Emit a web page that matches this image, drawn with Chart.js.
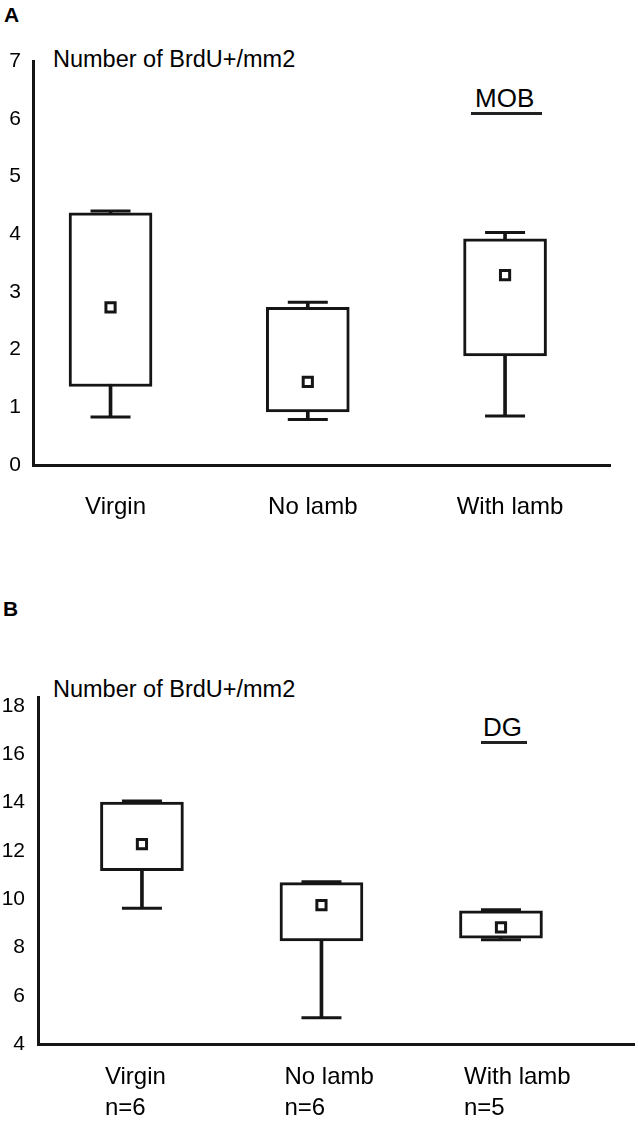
<!DOCTYPE html>
<html>
<head>
<meta charset="utf-8">
<script src="https://cdn.jsdelivr.net/npm/chart.js@4.4.1/dist/chart.umd.min.js"></script>
<style>
  body { margin: 0; background: #fff; width: 638px; height: 1125px; position: relative; overflow: hidden;
         font-family: 'Liberation Sans', Arial, sans-serif; color: #000; }
  .wrap { position: absolute; left: 0; }
  .t { position: absolute; white-space: nowrap; line-height: 1; }
  .u { position: absolute; height: 3px; background: #222; }
</style>
</head>
<body>

<div class="t" style="left:4px;top:4px;font-size:21px;font-weight:bold">A</div>
<div class="t" style="left:53px;top:48px;font-size:23.5px">Number of BrdU+/mm2</div>
<div class="t" style="left:475px;top:85px;font-size:26px">MOB</div>
<div class="u" style="left:471px;top:112px;width:71px"></div>

<div class="t" style="left:3px;top:598px;font-size:21px;font-weight:bold">B</div>
<div class="t" style="left:53px;top:678px;font-size:23.5px">Number of BrdU+/mm2</div>
<div class="t" style="left:483px;top:714px;font-size:26px">DG</div>
<div class="u" style="left:481px;top:741px;width:46px"></div>

<div class="wrap" style="top:0"><canvas id="mob" width="638" height="540"></canvas></div>
<div class="wrap" style="top:600px"><canvas id="dg" width="638" height="525"></canvas></div>

<script>
// groups
const categories = ['Virgin', 'No lamb', 'With lamb'];
const groupSizes = ['n=6', 'n=6', 'n=5'];

// A - MOB box plots
const mobMin = [0.83, 0.79, 0.85];
const mobQ1  = [1.36, 0.92, 1.89];
const mobMid = [2.73, 1.44, 3.29];
const mobQ3  = [4.37, 2.73, 3.92];
const mobMax = [4.40, 2.82, 4.03];
const mobTicks = [0, 1, 2, 3, 4, 5, 6, 7];

// B - DG box plots
const dgMin = [9.62, 5.09, 8.32];
const dgQ1  = [11.18, 8.27, 8.38];
const dgMid = [12.28, 9.75, 8.83];
const dgQ3  = [14.02, 10.68, 9.52];
const dgMax = [14.06, 10.72, 9.56];
const dgTicks = [4, 6, 8, 10, 12, 14, 16, 18];

Chart.defaults.font.family = "'Liberation Sans', Arial, sans-serif";
Chart.defaults.color = '#000';
const ink = '#151515';

function boxChart(id, mins, q1s, mids, q3s, maxs, cfg) {
  const idx = categories.map((c, i) => i);
  const pts = arr => arr.map((v, i) => ({ x: i, y: v }));

  return new Chart(document.getElementById(id), {
    type: 'bar',
    data: {
      datasets: [
        // whisker stems, drawn under the boxes
        { data: idx.map(i => ({ x: i, y: [mins[i], maxs[i]] })), backgroundColor: ink,
          barThickness: 3, grouped: false, order: 4 },
        // boxes
        { data: idx.map(i => ({ x: i, y: [q1s[i], q3s[i]] })), backgroundColor: '#fff',
          borderColor: ink, borderWidth: 3, borderSkipped: false,
          barThickness: cfg.boxW, grouped: false, order: 3 },
        // whisker caps
        { type: 'scatter', data: pts(mins).concat(pts(maxs)), pointStyle: 'line',
          radius: 20, hoverRadius: 20, borderColor: ink, borderWidth: 3, order: 2 },
        // centre marker
        { type: 'scatter', data: pts(mids), pointStyle: 'rect', radius: 6.5, hoverRadius: 6.5,
          backgroundColor: '#fff', borderColor: ink, borderWidth: 3, order: 1 }
      ]
    },
    options: {
      responsive: false,
      animation: false,
      events: [],
      layout: { autoPadding: false, padding: { top: cfg.top, right: cfg.right, left: 0, bottom: 0 } },
      plugins: { legend: { display: false }, tooltip: { enabled: false } },
      scales: {
        x: {
          type: 'linear', min: cfg.xMin, max: cfg.xMax, offset: false,
          grid: { display: false, drawTicks: false },
          border: { color: ink, width: 3 },
          afterBuildTicks: s => { s.ticks = idx.map(i => ({ value: i })); },
          afterFit: s => { s.height = cfg.xH; s.paddingLeft = 0; s.paddingRight = 0; },
          ticks: {
            font: { size: 24, lineHeight: 1.3 }, color: '#000', padding: cfg.labPad,
            maxRotation: 0, autoSkip: false, align: cfg.align, labelOffset: cfg.labOff,
            callback: v => cfg.label(v)
          }
        },
        y: {
          min: cfg.yMin, max: cfg.yMax,
          grid: { display: false, drawTicks: false },
          border: { color: ink, width: 3 },
          afterBuildTicks: s => { s.ticks = cfg.ticks.map(v => ({ value: v })); },
          afterFit: s => { s.width = cfg.yW; },
          ticks: { font: { size: 21 }, color: '#000', padding: cfg.yPad }
        }
      }
    }
  });
}

boxChart('mob', mobMin, mobQ1, mobMid, mobQ3, mobMax, {
  top: 61, right: 28, xH: 75, yW: 33, yPad: 12,
  xMin: -0.393, xMax: 2.532, yMin: 0, yMax: 7, ticks: mobTicks,
  boxW: 83, labPad: 27, align: 'center', labOff: 5,
  label: v => categories[v]
});

boxChart('dg', dgMin, dgQ1, dgMid, dgQ3, dgMax, {
  top: 97, right: 4, xH: 81, yW: 38, yPad: 13,
  xMin: -0.579, xMax: 2.741, yMin: 4, yMax: 18.37, ticks: dgTicks,
  boxW: 83, labPad: 18, align: 'start', labOff: -37,
  label: v => [categories[v], groupSizes[v]]
});
</script>
</body>
</html>
